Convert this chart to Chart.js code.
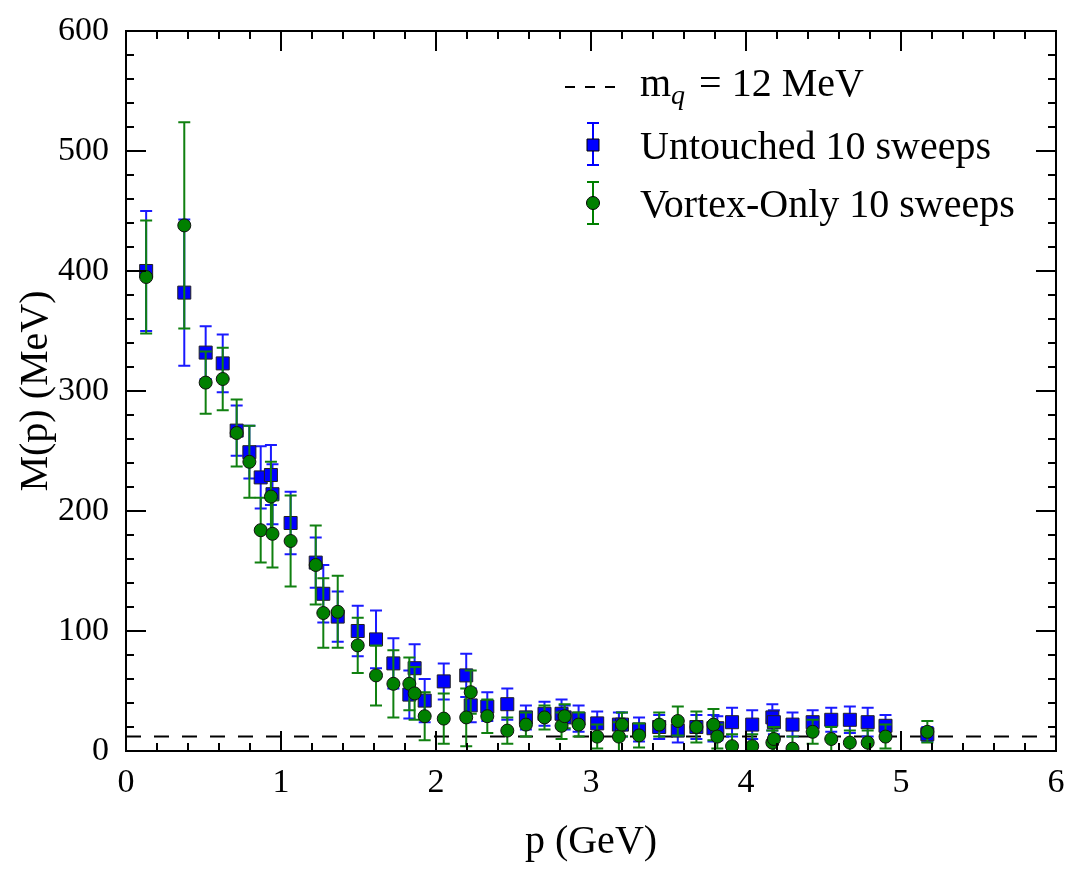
<!DOCTYPE html>
<html>
<head>
<meta charset="utf-8">
<script src="https://cdn.jsdelivr.net/npm/chart.js@4.4.0/dist/chart.umd.min.js"></script>
<style>
  html, body { margin: 0; padding: 0; background: #fff; }
  #wrap { width: 1081px; height: 879px; }
</style>
</head>
<body>
<div id="wrap"><canvas id="massChart" width="1081" height="879"></canvas></div>
<script>
// momentum p (GeV)
const momenta = [0.13, 0.376, 0.514, 0.624, 0.714, 0.796, 0.869, 0.935, 0.945, 1.062,
  1.224, 1.273, 1.366, 1.495, 1.613, 1.725, 1.828, 1.862, 1.927, 2.05,
  2.195, 2.224, 2.331, 2.46, 2.58, 2.70, 2.81, 2.83, 2.92, 3.04,
  3.18, 3.20, 3.31, 3.44, 3.56, 3.68, 3.79, 3.815, 3.91, 4.04,
  4.17, 4.18, 4.30, 4.43, 4.55, 4.67, 4.785, 4.90, 5.17];

// Untouched 10 sweeps: M(p) and error (MeV)
const untouchedMass = [400, 382, 332, 323, 267, 249, 228, 230, 214, 190,
  157, 131, 112, 100, 93, 73, 47, 69, 42, 58,
  63, 38, 37, 39, 28, 31, 31, 28, 27, 23,
  22, 22, 18, 20, 17, 20, 19, 19, 24, 22,
  28, 24, 22, 24, 26, 26, 24, 21, 14];
const untouchedErr = [50, 61, 22, 24, 21, 22, 26, 25, 25, 26,
  21, 24, 21, 21, 24, 21, 20, 20, 18, 15,
  18, 14, 12, 13, 10, 10, 12, 10, 11, 10,
  10, 10, 10, 10, 10, 10, 11, 10, 12, 12,
  11, 10, 10, 10, 10, 11, 12, 9, 6];

// Vortex-Only 10 sweeps: M(p) and error (MeV)
const vortexMass = [395, 438, 307, 310, 265, 241, 184, 212, 181, 175,
  155, 115, 116, 88, 63, 56, 56, 48, 29, 27,
  28, 49, 29, 17, 22, 28, 21, 29, 22, 12,
  12, 22, 13, 22, 25, 20, 22, 12, 4, 4,
  7, 10, 2, 16, 10, 7, 7, 12, 16];
const vortexErr = [47, 86, 26, 26, 28, 30, 27, 29, 28, 38,
  33, 29, 30, 23, 25, 28, 22, 22, 20, 21,
  24, 18, 14, 11, 10, 10, 11, 10, 10, 10,
  12, 10, 10, 10, 12, 13, 13, 10, 10, 10,
  10, 10, 10, 10, 10, 10, 10, 10, 9];

const quarkMass = 12;
const xRange = [0, 6];
const yRange = [0, 600];

const serif = "'Liberation Serif', 'DejaVu Serif', serif";

function toPoints(xs, ys) {
  return xs.map((x, i) => ({ x: x, y: ys[i] }));
}

// error bars drawn just before each dataset's markers
const errorBars = {
  id: 'errorBars',
  beforeDatasetDraw(chart, args) {
    const ds = chart.data.datasets[args.index];
    if (!ds.errors) return;
    const xs = chart.scales.x, ys = chart.scales.y;
    const area = chart.chartArea;
    const ctx = chart.ctx;
    ctx.save();
    ctx.beginPath();
    ctx.rect(area.left, area.top, area.right - area.left, area.bottom - area.top);
    ctx.clip();
    ctx.strokeStyle = ds.errColor;
    ctx.lineWidth = 2;
    ds.data.forEach((pt, i) => {
      const px = xs.getPixelForValue(pt.x);
      const top = ys.getPixelForValue(pt.y + ds.errors[i]);
      const bot = ys.getPixelForValue(pt.y - ds.errors[i]);
      ctx.beginPath();
      ctx.moveTo(px, top); ctx.lineTo(px, bot);
      ctx.moveTo(px - 6, top); ctx.lineTo(px + 6, top);
      ctx.moveTo(px - 6, bot); ctx.lineTo(px + 6, bot);
      ctx.stroke();
    });
    ctx.restore();
  }
};

// box frame with inward ticks on all sides
const frameTicks = {
  id: 'frameTicks',
  afterDraw(chart) {
    const xs = chart.scales.x, ys = chart.scales.y;
    const a = chart.chartArea;
    const ctx = chart.ctx;
    ctx.save();
    ctx.strokeStyle = '#000';
    ctx.lineWidth = 2;
    ctx.strokeRect(a.left, a.top, a.right - a.left, a.bottom - a.top);
    ctx.beginPath();
    for (let k = 0; k <= 30; k++) {
      const v = k * 0.2;
      const len = (k % 5 === 0) ? 20 : 8;
      const px = xs.getPixelForValue(v);
      ctx.moveTo(px, a.bottom); ctx.lineTo(px, a.bottom - len);
      ctx.moveTo(px, a.top); ctx.lineTo(px, a.top + len);
    }
    for (let k = 0; k <= 30; k++) {
      const v = k * 20;
      const len = (k % 5 === 0) ? 20 : 8;
      const py = ys.getPixelForValue(v);
      ctx.moveTo(a.left, py); ctx.lineTo(a.left + len, py);
      ctx.moveTo(a.right, py); ctx.lineTo(a.right - len, py);
    }
    ctx.stroke();
    ctx.restore();
  }
};

// legend with error-bar markers and a subscript label
const customLegend = {
  id: 'customLegend',
  afterDraw(chart) {
    const ctx = chart.ctx;
    const mx = 593, tx = 640;
    ctx.save();
    ctx.fillStyle = '#000';
    ctx.textBaseline = 'alphabetic';
    // dashed line entry
    ctx.strokeStyle = '#000';
    ctx.lineWidth = 2;
    ctx.setLineDash([10, 10]);
    ctx.beginPath();
    ctx.moveTo(565, 87); ctx.lineTo(622, 87);
    ctx.stroke();
    ctx.setLineDash([]);
    ctx.font = '40px ' + serif;
    ctx.fillText('m', tx, 96);
    let w = ctx.measureText('m').width;
    ctx.font = 'italic 28px ' + serif;
    ctx.fillText('q', tx + w, 104);
    w += ctx.measureText('q').width + 4;
    ctx.font = '40px ' + serif;
    ctx.fillText(' = 12 MeV', tx + w, 96);

    const entries = [
      { y: 145, top: 123, bot: 165, color: '#0000ff', shape: 'rect', label: 'Untouched 10 sweeps', base: 159 },
      { y: 203, top: 182, bot: 224, color: '#008000', shape: 'circle', label: 'Vortex-Only 10 sweeps', base: 217 }
    ];
    entries.forEach(e => {
      ctx.strokeStyle = e.color;
      ctx.lineWidth = 2;
      ctx.beginPath();
      ctx.moveTo(mx, e.top); ctx.lineTo(mx, e.bot);
      ctx.moveTo(mx - 6, e.top); ctx.lineTo(mx + 6, e.top);
      ctx.moveTo(mx - 6, e.bot); ctx.lineTo(mx + 6, e.bot);
      ctx.stroke();
      ctx.fillStyle = e.color;
      ctx.strokeStyle = '#000';
      ctx.lineWidth = 1;
      ctx.beginPath();
      if (e.shape === 'rect') ctx.rect(mx - 6, e.y - 6, 12, 12);
      else ctx.arc(mx, e.y, 6.5, 0, Math.PI * 2);
      ctx.fill(); ctx.stroke();
      ctx.fillStyle = '#000';
      ctx.font = '40px ' + serif;
      ctx.fillText(e.label, tx, e.base);
    });
    ctx.restore();
  }
};

const ctx = document.getElementById('massChart').getContext('2d');
const massChart = new Chart(ctx, {
  type: 'scatter',
  data: {
    datasets: [
      {
        label: 'm_q = 12 MeV',
        type: 'line',
        data: [{ x: xRange[0], y: quarkMass }, { x: xRange[1], y: quarkMass }],
        borderColor: '#000',
        borderWidth: 2,
        borderDash: [15, 13],
        pointRadius: 0,
        order: 3
      },
      {
        label: 'Untouched 10 sweeps',
        data: toPoints(momenta, untouchedMass),
        errors: untouchedErr,
        errColor: '#1a1aff',
        pointStyle: 'rect',
        pointRadius: 9.2,
        backgroundColor: '#0000ff',
        borderColor: '#222',
        borderWidth: 1,
        order: 2
      },
      {
        label: 'Vortex-Only 10 sweeps',
        data: toPoints(momenta, vortexMass),
        errors: vortexErr,
        errColor: '#108010',
        pointStyle: 'circle',
        pointRadius: 6.5,
        backgroundColor: '#008000',
        borderColor: '#111',
        borderWidth: 1,
        order: 1
      }
    ]
  },
  options: {
    responsive: false,
    animation: false,
    devicePixelRatio: 1,
    layout: { padding: { left: 0, top: 31, right: 25, bottom: 0 } },
    plugins: {
      legend: { display: false },
      tooltip: { enabled: false }
    },
    scales: {
      x: {
        type: 'linear',
        min: xRange[0],
        max: xRange[1],
        grid: { display: false },
        border: { display: false },
        ticks: { stepSize: 1, padding: 4, color: '#000', font: { family: serif, size: 34 } },
        title: { display: true, text: 'p (GeV)', color: '#000', font: { family: serif, size: 40 }, padding: { top: 0, bottom: 13 } },
        afterFit(scale) { scale.height = 128; }
      },
      y: {
        type: 'linear',
        min: yRange[0],
        max: yRange[1],
        grid: { display: false },
        border: { display: false },
        ticks: { stepSize: 100, padding: 9, color: '#000', font: { family: serif, size: 34 } },
        title: { display: true, text: 'M(p) (MeV)', color: '#000', font: { family: serif, size: 40 }, padding: { top: 12, bottom: 0 } },
        afterFit(scale) { scale.width = 126; }
      }
    }
  },
  plugins: [errorBars, frameTicks, customLegend]
});
</script>
</body>
</html>
